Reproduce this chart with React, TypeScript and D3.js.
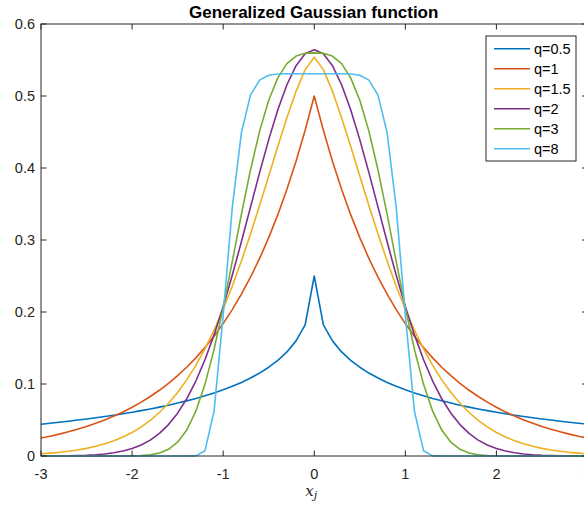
import React from "react";
import * as d3 from "d3";

const xs = [
  -3.0, -2.9, -2.8, -2.7, -2.6, -2.5, -2.4, -2.3, -2.2, -2.1, -2.0, -1.9, -1.8, -1.7, -1.6, -1.5,
  -1.4, -1.3, -1.2, -1.1, -1.0, -0.9, -0.8, -0.7, -0.6, -0.5, -0.4, -0.3, -0.2, -0.1, 0.0, 0.1,
  0.2, 0.3, 0.4, 0.5, 0.6, 0.7, 0.8, 0.9, 1.0, 1.1, 1.2, 1.3, 1.4, 1.5, 1.6, 1.7, 1.8, 1.9, 2.0,
  2.1, 2.2, 2.3, 2.4, 2.5, 2.6, 2.7, 2.8, 2.9, 3.0,
];

const q05 = [
  0.0442, 0.0455, 0.0469, 0.0483, 0.0499, 0.0514, 0.0531, 0.0549, 0.0567, 0.0587, 0.0608, 0.063,
  0.0654, 0.0679, 0.0706, 0.0735, 0.0766, 0.0799, 0.0836, 0.0876, 0.092, 0.0968, 0.1022, 0.1083,
  0.1152, 0.1233, 0.1328, 0.1446, 0.1599, 0.1822, 0.25, 0.1822, 0.1599, 0.1446, 0.1328, 0.1233,
  0.1152, 0.1083, 0.1022, 0.0968, 0.092, 0.0876, 0.0836, 0.0799, 0.0766, 0.0735, 0.0706, 0.0679,
  0.0654, 0.063, 0.0608, 0.0587, 0.0567, 0.0549, 0.0531, 0.0514, 0.0499, 0.0483, 0.0469, 0.0455,
  0.0442,
];

const q1 = [
  0.0249, 0.0275, 0.0304, 0.0336, 0.0371, 0.041, 0.0454, 0.0501, 0.0554, 0.0612, 0.0677, 0.0748,
  0.0826, 0.0913, 0.1009, 0.1116, 0.1233, 0.1363, 0.1506, 0.1664, 0.1839, 0.2033, 0.2247, 0.2483,
  0.2744, 0.3033, 0.3352, 0.3704, 0.4094, 0.4524, 0.5, 0.4524, 0.4094, 0.3704, 0.3352, 0.3033,
  0.2744, 0.2483, 0.2247, 0.2033, 0.1839, 0.1664, 0.1506, 0.1363, 0.1233, 0.1116, 0.1009, 0.0913,
  0.0826, 0.0748, 0.0677, 0.0612, 0.0554, 0.0501, 0.0454, 0.041, 0.0371, 0.0336, 0.0304, 0.0275,
  0.0249,
];

const q15 = [
  0.0031, 0.004, 0.0051, 0.0066, 0.0084, 0.0106, 0.0135, 0.0169, 0.0212, 0.0264, 0.0327, 0.0404,
  0.0495, 0.0604, 0.0732, 0.0882, 0.1057, 0.1258, 0.1488, 0.1747, 0.2038, 0.2358, 0.2708, 0.3084,
  0.348, 0.3889, 0.4301, 0.4699, 0.5065, 0.5366, 0.5539, 0.5366, 0.5065, 0.4699, 0.4301, 0.3889,
  0.348, 0.3084, 0.2708, 0.2358, 0.2038, 0.1747, 0.1488, 0.1258, 0.1057, 0.0882, 0.0732, 0.0604,
  0.0495, 0.0404, 0.0327, 0.0264, 0.0212, 0.0169, 0.0135, 0.0106, 0.0084, 0.0066, 0.0051, 0.004,
  0.0031,
];

const q2 = [
  0.0001, 0.0001, 0.0002, 0.0004, 0.0007, 0.0011, 0.0018, 0.0028, 0.0045, 0.0069, 0.0103, 0.0153,
  0.0221, 0.0314, 0.0436, 0.0595, 0.0795, 0.1041, 0.1337, 0.1682, 0.2076, 0.251, 0.2975, 0.3456,
  0.3936, 0.4394, 0.4808, 0.5156, 0.5421, 0.5586, 0.5642, 0.5586, 0.5421, 0.5156, 0.4808, 0.4394,
  0.3936, 0.3456, 0.2975, 0.251, 0.2076, 0.1682, 0.1337, 0.1041, 0.0795, 0.0595, 0.0436, 0.0314,
  0.0221, 0.0153, 0.0103, 0.0069, 0.0045, 0.0028, 0.0018, 0.0011, 0.0007, 0.0004, 0.0002, 0.0001,
  0.0001,
];

const q3 = [
  0, 0, 0, 0, 0, 0, 0, 0, 0, 0.0001, 0.0002, 0.0006, 0.0016, 0.0041, 0.0093, 0.0192, 0.036, 0.0622,
  0.0995, 0.1479, 0.206, 0.2701, 0.3356, 0.3973, 0.4512, 0.4941, 0.5252, 0.545, 0.5555, 0.5594,
  0.5599, 0.5594, 0.5555, 0.545, 0.5252, 0.4941, 0.4512, 0.3973, 0.3356, 0.2701, 0.206, 0.1479,
  0.0995, 0.0622, 0.036, 0.0192, 0.0093, 0.0041, 0.0016, 0.0006, 0.0002, 0.0001, 0, 0, 0, 0, 0, 0,
  0, 0, 0,
];

const q8 = [
  0, 0, 0, 0, 0, 0, 0, 0, 0, 0, 0, 0, 0, 0, 0, 0, 0, 0.0002, 0.0072, 0.0622, 0.1953, 0.3452,
  0.4489, 0.5012, 0.5221, 0.5289, 0.5306, 0.5309, 0.5309, 0.5309, 0.5309, 0.5309, 0.5309, 0.5309,
  0.5306, 0.5289, 0.5221, 0.5012, 0.4489, 0.3452, 0.1953, 0.0622, 0.0072, 0.0002, 0, 0, 0, 0, 0, 0,
  0, 0, 0, 0, 0, 0, 0, 0, 0, 0, 0,
];

const seriesNames = ["q=0.5", "q=1", "q=1.5", "q=2", "q=3", "q=8"];
const seriesValues = [q05, q1, q15, q2, q3, q8];
const seriesColors = ["#0072BD", "#D95319", "#EDB120", "#7E2F8E", "#77AC30", "#4DBEEE"];

const xTicks = [-3, -2, -1, 0, 1, 2, 3];
const yTicks = [0, 0.1, 0.2, 0.3, 0.4, 0.5, 0.6];
const titleText = "Generalized Gaussian function";

const W = 584;
const H = 508;
const AX = "#262626";
const FONT = "'Liberation Sans', Arial, Helvetica, sans-serif";

export default function App() {
  const x = d3.scaleLinear().domain([-3, 3]).range([41, 587.5]);
  const y = d3.scaleLinear().domain([0, 0.6]).range([456, 24]);
  const line = d3
    .line<number>()
    .x((_, i) => x(xs[i]))
    .y((d) => y(d));
  const x0 = x(-3), x1 = x(3), y0 = y(0), y1 = y(0.6);
  const tl = 5.5;
  const legX = 486, legY = 36, legW = 90, legH = 125;

  return (
    <svg
      width={W}
      height={H}
      style={{ position: "absolute", left: 0, top: 0, background: "#fff" }}
      xmlns="http://www.w3.org/2000/svg"
    >
      <rect x={0} y={0} width={W} height={H} fill="#fff" />
      {/* series */}
      <g fill="none" strokeWidth={1.6} strokeLinejoin="round">
        {seriesValues.map((vals, k) => (
          <path key={k} d={line(vals) || ""} stroke={seriesColors[k]} />
        ))}
      </g>
      {/* axes box */}
      <g stroke={AX} strokeWidth={1} fill="none">
        <rect x={x0} y={y1} width={x1 - x0} height={y0 - y1} />
        {xTicks.map((t) => (
          <g key={"xt" + t}>
            <line x1={x(t)} x2={x(t)} y1={y0} y2={y0 - tl} />
            <line x1={x(t)} x2={x(t)} y1={y1} y2={y1 + tl} />
          </g>
        ))}
        {yTicks.map((t) => (
          <g key={"yt" + t}>
            <line x1={x0} x2={x0 + tl} y1={y(t)} y2={y(t)} />
            <line x1={x1} x2={x1 - tl} y1={y(t)} y2={y(t)} />
          </g>
        ))}
      </g>
      {/* tick labels */}
      <g fill={AX} fontFamily={FONT} fontSize={14.5}>
        {xTicks.map((t) => (
          <text key={"xl" + t} x={x(t)} y={478.5} textAnchor="middle">
            {String(t)}
          </text>
        ))}
        {yTicks.map((t) => (
          <text key={"yl" + t} x={35} y={y(t) + 5.2} textAnchor="end">
            {String(t)}
          </text>
        ))}
      </g>
      {/* title */}
      <text
        x={313.7}
        y={17.5}
        textAnchor="middle"
        fontFamily={FONT}
        fontWeight="bold"
        fontSize={17}
        fill="#000"
      >
        {titleText}
      </text>
      {/* x label */}
      <text
        x={(x0 + x1) / 2 - 3}
        y={496}
        textAnchor="middle"
        fontFamily="'DejaVu Serif', 'Liberation Serif', serif"
        fontStyle="italic"
        fontSize={15}
        fill={AX}
      >
        x
        <tspan fontSize={11} dy={3}>
          j
        </tspan>
      </text>
      {/* legend */}
      <g>
        <rect x={legX} y={legY} width={legW} height={legH} fill="#fff" stroke={AX} strokeWidth={1} />
        {seriesNames.map((n, k) => {
          const ry = legY + 12.7 + k * 20;
          return (
            <g key={n}>
              <line x1={494} x2={530} y1={ry} y2={ry} stroke={seriesColors[k]} strokeWidth={1.6} />
              <text x={534} y={ry + 5.2} fontFamily={FONT} fontSize={14.5} fill="#000">
                {n}
              </text>
            </g>
          );
        })}
      </g>
    </svg>
  );
}
